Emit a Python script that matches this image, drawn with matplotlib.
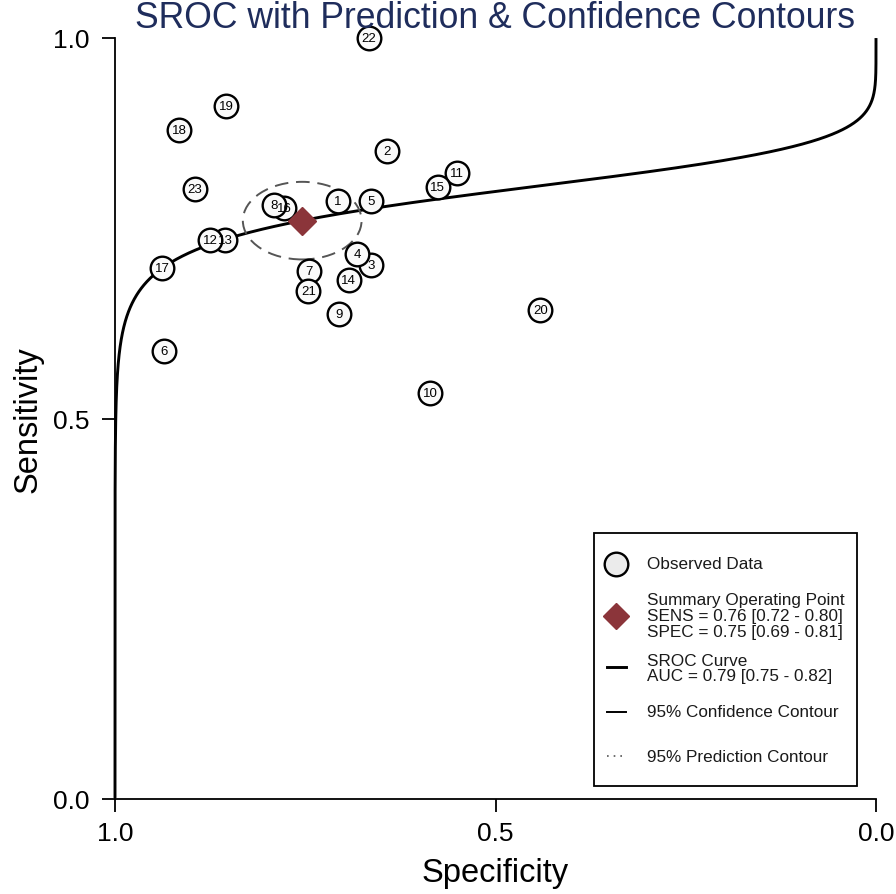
import numpy as np
import matplotlib
matplotlib.use("Agg")
import matplotlib.pyplot as plt
from matplotlib.patches import Ellipse, Rectangle
from matplotlib.lines import Line2D

plt.rcParams['font.family'] = ['Liberation Sans', 'DejaVu Sans']

# study data
study = [1, 2, 3, 4, 5, 6, 7, 8, 9, 10, 11, 12, 13, 14, 15, 16, 17, 18, 19, 20, 21, 22, 23]
spec = [0.707, 0.642, 0.663, 0.682, 0.663, 0.936, 0.745, 0.791, 0.705, 0.586, 0.551, 0.875,
        0.855, 0.693, 0.576, 0.778, 0.938, 0.916, 0.854, 0.441, 0.746, 0.666, 0.895]
sens = [0.786, 0.852, 0.702, 0.716, 0.786, 0.589, 0.694, 0.781, 0.637, 0.534, 0.823, 0.735,
        0.735, 0.682, 0.804, 0.777, 0.698, 0.879, 0.911, 0.643, 0.668, 1.000, 0.802]

# summary point
sum_spec = 0.754
sum_sens = 0.760

# confidence contour (full widths)
conf_w = 0.156
conf_h = 0.102

# SROC curve parameters: logit(sens) = a + b * logit(1 - spec)
sroc_a = 1.376
sroc_b = 0.199

fig = plt.figure(figsize=(8.96, 8.95), dpi=100)
ax = fig.add_axes([115 / 896, 1 - 800 / 895, 761 / 896, 761 / 895])
ax.set_xlim(1, 0)
ax.set_ylim(0, 1)

# SROC curve
lf = np.linspace(-40, 40, 4000)
fpr = 1 / (1 + np.exp(-lf))
curve = 1 / (1 + np.exp(-(sroc_a + sroc_b * lf)))
ax.plot(1 - fpr, curve, color='black', lw=2.1, zorder=2, clip_on=False, solid_capstyle='butt')

# confidence contour
ell = Ellipse((sum_spec, sum_sens), conf_w, conf_h, fill=False, ec='#555555', lw=1.4,
              ls=(0, (7, 4)), zorder=2.5)
ax.add_patch(ell)

# observed studies: circles first (low to high specificity), numbers on top
order = np.argsort(spec)
for rank, i in enumerate(order):
    ax.plot(spec[i], sens[i], 'o', ms=17, mfc='#fafafa', mec='black', mew=1.7,
            zorder=3 + rank * 0.01, clip_on=False)
for i in range(len(study)):
    ax.text(spec[i], sens[i], str(study[i]), ha='center', va='center', fontsize=9.5,
            zorder=4)

ax.plot(sum_spec, sum_sens, 'D', ms=14, color='#8b353a', zorder=4.5)

# axes styling
for s in ['top', 'right']:
    ax.spines[s].set_visible(False)
for s in ['left', 'bottom']:
    ax.spines[s].set_linewidth(1.3)
ax.set_xticks([1.0, 0.5, 0.0])
ax.set_xticklabels(['1.0', '0.5', '0.0'])
ax.set_yticks([0.0, 0.5, 1.0])
ax.set_yticklabels(['0.0', '0.5', '1.0'])
ax.tick_params(axis='both', length=9.5, width=1.3, labelsize=19)
ax.tick_params(axis='x', pad=6)
ax.tick_params(axis='y', pad=9)
ax.set_xlabel('Specificity', fontsize=23.5, labelpad=9)
ax.set_ylabel('Sensitivity', fontsize=23.5, labelpad=7)

fig.text(495 / 896, 1 - 28 / 895, 'SROC with Prediction & Confidence Contours',
         ha='center', va='baseline', fontsize=25.6, color='#1f2d5c')

# legend drawn by hand
def fx(px):
    return px / 896

def fy(py):
    return 1 - py / 895

box = Rectangle((fx(594), fy(787)), fx(857) - fx(594), fy(534) - fy(787),
                transform=fig.transFigure, fill=True, fc='white', ec='black', lw=1.3, zorder=10)
fig.add_artist(box)

mx = 616
fig.add_artist(Line2D([fx(mx)], [fy(565)], marker='o', ms=17, mfc='#ebebeb', mec='black',
                      mew=1.7, transform=fig.transFigure, zorder=11))
fig.add_artist(Line2D([fx(mx)], [fy(617)], marker='D', ms=13.5, color='#8b353a',
                      transform=fig.transFigure, zorder=11))
fig.add_artist(Line2D([fx(607), fx(626)], [fy(668), fy(668)], color='black', lw=2.1,
                      transform=fig.transFigure, zorder=11))
fig.add_artist(Line2D([fx(607), fx(626)], [fy(713), fy(713)], color='black', lw=1.4,
                      transform=fig.transFigure, zorder=11))
fig.add_artist(Line2D([fx(607), fx(626)], [fy(757), fy(757)], color='#555555', lw=1.2,
                      ls=(0, (1, 3)), transform=fig.transFigure, zorder=11))

leg_text = [
    (565, 'Observed Data'),
    (601, 'Summary Operating Point'),
    (617, 'SENS = 0.76 [0.72 - 0.80]'),
    (633, 'SPEC = 0.75 [0.69 - 0.81]'),
    (661, 'SROC Curve'),
    (677, 'AUC = 0.79 [0.75 - 0.82]'),
    (713, '95% Confidence Contour'),
    (757, '95% Prediction Contour'),
]
for py, t in leg_text:
    fig.text(fx(647), fy(py), t, ha='left', va='center', fontsize=12.3, color='#1a1a1a', zorder=11)

fig.savefig('out.png', dpi=100)
